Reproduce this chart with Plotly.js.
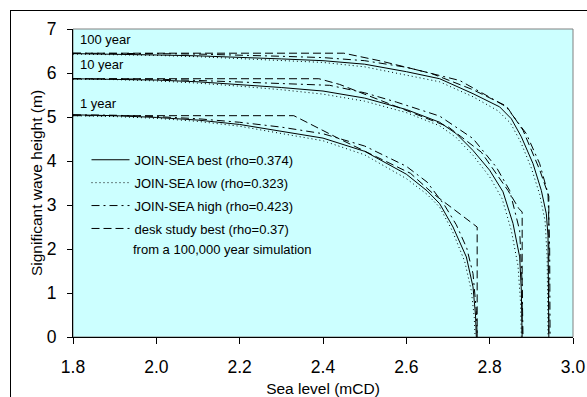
<!DOCTYPE html>
<html>
<head>
<meta charset="utf-8">
<script src="https://cdn.plot.ly/plotly-3.0.1.min.js"></script>
<style>
  html, body { margin: 0; padding: 0; background: #fff; overflow: hidden; }
  #chart { width: 587px; height: 397px; position: relative; }
  #frame { position: absolute; left: 10px; top: 10px; width: 600px; height: 400px;
           border-left: 1px solid #000; border-top: 1px solid #000; pointer-events: none; }
</style>
</head>
<body>
<div id="chart"></div>
<div id="frame"></div>
<script>
// ---- Data ----
const seriesNames = ["JOIN-SEA best (rho=0.374)", "JOIN-SEA low (rho=0.323)", "JOIN-SEA high (rho=0.423)", "desk study best (rho=0.37)"];
const returnPeriodLabels = ["100 year", "10 year", "1 year"];
const returnPeriodLabelY = [6.76, 6.19, 5.3];
const noteText = "from a 100,000 year simulation";

// 1 year
const best1x = [1.8, 1.9, 2.0, 2.1, 2.2, 2.3, 2.4, 2.5, 2.6, 2.65, 2.68, 2.712, 2.744, 2.76, 2.766, 2.768];
const best1y = [5.05, 5.03, 4.99, 4.93, 4.83, 4.68, 4.52, 4.22, 3.7, 3.32, 3.03, 2.5, 1.82, 1.14, 0.5, 0];
const low1x  = [1.8, 1.9, 2.0, 2.1, 2.2, 2.3, 2.4, 2.5, 2.6, 2.65, 2.68, 2.71, 2.74, 2.756, 2.763, 2.765];
const low1y  = [5.03, 5.01, 4.97, 4.9, 4.79, 4.63, 4.46, 4.14, 3.6, 3.24, 2.95, 2.42, 1.72, 1.05, 0.45, 0];
const high1x = [1.8, 1.9, 2.0, 2.1, 2.2, 2.3, 2.4, 2.5, 2.6, 2.65, 2.692, 2.72, 2.745, 2.76, 2.768, 2.77];
const high1y = [5.05, 5.04, 5.01, 4.96, 4.88, 4.77, 4.62, 4.34, 3.88, 3.52, 2.99, 2.55, 2.02, 1.44, 0.6, 0];
const desk1x = [1.8, 2.33, 2.44, 2.61, 2.664, 2.768, 2.77, 2.77];
const desk1y = [5.03, 5.03, 4.5, 3.72, 3.26, 2.52, 2.5, 0];

// 10 year
const best10x = [1.8, 1.9, 2.0, 2.1, 2.2, 2.3, 2.4, 2.5, 2.6, 2.68, 2.72, 2.76, 2.8, 2.832, 2.856, 2.872, 2.876, 2.878];
const best10y = [5.87, 5.86, 5.84, 5.8, 5.74, 5.67, 5.59, 5.43, 5.17, 4.88, 4.62, 4.24, 3.79, 3.3, 2.58, 1.82, 1.06, 0];
const low10x  = [1.8, 1.9, 2.0, 2.1, 2.2, 2.3, 2.4, 2.5, 2.6, 2.68, 2.72, 2.76, 2.8, 2.83, 2.852, 2.868, 2.874, 2.876];
const low10y  = [5.86, 5.85, 5.82, 5.77, 5.7, 5.62, 5.52, 5.36, 5.1, 4.8, 4.53, 4.13, 3.64, 3.14, 2.42, 1.62, 0.8, 0];
const high10x = [1.8, 1.9, 2.0, 2.1, 2.2, 2.3, 2.416, 2.5, 2.576, 2.68, 2.76, 2.816, 2.848, 2.872, 2.878, 2.88];
const high10y = [5.87, 5.87, 5.86, 5.83, 5.8, 5.76, 5.72, 5.55, 5.34, 5.02, 4.51, 3.86, 3.33, 2.42, 1.2, 0];
const desk10x = [1.8, 2.39, 2.44, 2.6, 2.7, 2.78, 2.844, 2.87, 2.878, 2.878];
const desk10y = [5.87, 5.87, 5.74, 5.14, 4.78, 4.2, 3.33, 2.92, 2.84, 0];

// 100 year
const best100x = [1.8, 1.9, 2.0, 2.1, 2.2, 2.3, 2.4, 2.5, 2.6, 2.68, 2.76, 2.824, 2.852, 2.876, 2.904, 2.924, 2.936, 2.94, 2.942];
const best100y = [6.44, 6.43, 6.41, 6.39, 6.36, 6.32, 6.28, 6.2, 6.03, 5.87, 5.53, 5.23, 4.96, 4.55, 3.94, 3.33, 2.8, 2.3, 0];
const low100x  = [1.8, 1.9, 2.0, 2.1, 2.2, 2.3, 2.4, 2.5, 2.6, 2.68, 2.76, 2.82, 2.85, 2.875, 2.9, 2.92, 2.933, 2.938, 2.94];
const low100y  = [6.43, 6.42, 6.4, 6.37, 6.33, 6.29, 6.24, 6.14, 5.96, 5.8, 5.46, 5.14, 4.86, 4.42, 3.84, 3.24, 2.64, 1.8, 0];
const high100x = [1.8, 1.9, 2.0, 2.1, 2.2, 2.3, 2.4, 2.5, 2.6, 2.728, 2.8, 2.84, 2.888, 2.92, 2.94, 2.944, 2.945];
const high100y = [6.45, 6.45, 6.44, 6.43, 6.41, 6.38, 6.35, 6.28, 6.13, 5.83, 5.45, 5.23, 4.62, 3.94, 3.26, 2.0, 0];
const desk100x = [1.8, 2.45, 2.54, 2.66, 2.76, 2.84, 2.88, 2.92, 2.942, 2.942];
const desk100y = [6.45, 6.45, 6.27, 5.99, 5.62, 5.25, 4.7, 3.8, 3.2, 0];

const xTickVals = [1.8, 2.0, 2.2, 2.4, 2.6, 2.8, 3.0];
const xTickText = ["1.8", "2.0", "2.2", "2.4", "2.6", "2.8", "3.0"];
const yTickVals = [0, 1, 2, 3, 4, 5, 6, 7];

// ---- Styles ----
const styles = [
  { dash: "solid", width: 1, color: "#000" },
  { dash: "1px,3px", width: 1, color: "#000" },
  { dash: "8px,4px,2px,4px", width: 1, color: "#000" },
  { dash: "8px,4px", width: 1, color: "#000" }
];

const groups = [
  [[best1x, best1y], [low1x, low1y], [high1x, high1y], [desk1x, desk1y]],
  [[best10x, best10y], [low10x, low10y], [high10x, high10y], [desk10x, desk10y]],
  [[best100x, best100y], [low100x, low100y], [high100x, high100y], [desk100x, desk100y]]
];

const traces = [];
groups.forEach((g, gi) => {
  g.forEach((xy, si) => {
    traces.push({
      type: "scatter", mode: "lines",
      x: xy[0], y: xy[1],
      name: seriesNames[si],
      legendgroup: "s" + si,
      showlegend: gi === 0,
      legendrank: si + 1,
      line: { color: styles[si].color, width: styles[si].width, dash: styles[si].dash },
      hoverinfo: "skip"
    });
  });
});

const font = "Liberation Sans, Arial, sans-serif";

const annotations = returnPeriodLabels.map((t, i) => ({
  x: 1.812, y: returnPeriodLabelY[i], xref: "x", yref: "y",
  text: t, showarrow: false, xanchor: "left", yanchor: "middle",
  font: { family: font, size: 13, color: "#000" }
}));
annotations.push({
  x: 1.938, y: 2.0, xref: "x", yref: "y", text: noteText, showarrow: false,
  xanchor: "left", yanchor: "middle", font: { family: font, size: 13, color: "#000" }
});

const layout = {
  width: 587, height: 397,
  margin: { l: 73, r: 14, t: 29, b: 60, pad: 0 },
  paper_bgcolor: "#ffffff",
  plot_bgcolor: "#ccffff",
  font: { family: font, color: "#000" },
  showlegend: true,
  legend: {
    x: 0.027, y: 0.624, xanchor: "left", yanchor: "top",
    bgcolor: "rgba(0,0,0,0)", borderwidth: 0,
    font: { family: font, size: 13, color: "#000" },
    traceorder: "grouped", tracegroupgap: 3, itemwidth: 38
  },
  xaxis: {
    range: [1.8, 3.0], tickvals: xTickVals, ticktext: xTickText,
    showgrid: false, zeroline: false, showline: true, linecolor: "#000", linewidth: 1,
    ticks: "outside", ticklen: 6, tickcolor: "#000", tickwidth: 1,
    ticklabelstandoff: 8,
    tickfont: { family: font, size: 17.5, color: "#000" },
    title: { text: "Sea level (mCD)", font: { family: font, size: 15.5, color: "#000" }, standoff: 15 },
    automargin: false, fixedrange: true
  },
  yaxis: {
    range: [0, 7], tickvals: yTickVals,
    showgrid: false, zeroline: false, showline: true, linecolor: "#000", linewidth: 1,
    ticks: "outside", ticklen: 5, tickcolor: "#000", tickwidth: 1,
    ticklabelstandoff: 7,
    tickfont: { family: font, size: 17.5, color: "#000" },
    title: { text: "Significant wave height (m)", font: { family: font, size: 15.5, color: "#000" }, standoff: 0 },
    automargin: false, fixedrange: true
  },
  shapes: [
    { type: "rect", xref: "x domain", yref: "y domain", x0: 0, x1: 1, y0: 0, y1: 1,
      line: { color: "#808080", width: 1 }, layer: "below" }
  ],
  annotations: annotations
};

Plotly.newPlot("chart", traces, layout, { displayModeBar: false, staticPlot: true });
</script>
</body>
</html>
